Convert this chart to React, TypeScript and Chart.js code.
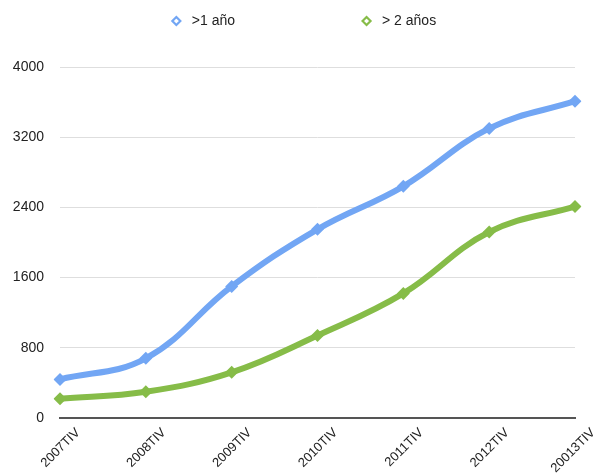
import React, { useEffect, useRef } from "react";
import { Chart, registerables } from "chart.js";

Chart.register(...registerables);

const categories = ["2007TIV", "2008TIV", "2009TIV", "2010TIV", "2011TIV", "2012TIV", "20013TIV"];
const seriesOneYear = [440, 680, 1500, 2150, 2640, 3300, 3610];
const seriesTwoYears = [220, 300, 520, 940, 1420, 2120, 2410];
const yTicks = [0, 800, 1600, 2400, 3200, 4000];
const seriesNames = [">1 año", "> 2 años"];

const BLUE = "#72a6f4";
const GREEN = "#86bc48";
const FONT = "'Liberation Sans', Arial, Helvetica, sans-serif";

const topLegend = {
  id: "topLegend",
  afterDraw(chart: any) {
    const ctx = chart.ctx;
    const items = chart.data.datasets.map((ds: any) => ({ text: ds.label, color: ds.borderColor }));
    ctx.save();
    ctx.font = `14px ${FONT}`;
    const markerW = 9;
    const markerGap = 11;
    const itemGap = 127;
    const widths = items.map((it: any) => markerW + markerGap + ctx.measureText(it.text).width);
    const total = widths.reduce((a: number, b: number) => a + b, 0) + itemGap * (items.length - 1);
    let x = chart.width / 2 - total / 2;
    const y = 21;
    items.forEach((it: any, i: number) => {
      const cx = x + markerW / 2;
      const r = 4;
      ctx.beginPath();
      ctx.moveTo(cx, y - r);
      ctx.lineTo(cx + r, y);
      ctx.lineTo(cx, y + r);
      ctx.lineTo(cx - r, y);
      ctx.closePath();
      ctx.fillStyle = "#fff";
      ctx.fill();
      ctx.lineWidth = 2.2;
      ctx.strokeStyle = it.color;
      ctx.stroke();
      ctx.fillStyle = "#222";
      ctx.textAlign = "left";
      ctx.textBaseline = "middle";
      ctx.fillText(it.text, x + markerW + markerGap, y);
      x += widths[i] + itemGap;
    });
    ctx.restore();
  },
};

export default function App() {
  const ref = useRef<HTMLCanvasElement | null>(null);
  useEffect(() => {
    if (!ref.current) return;
    const chart = new Chart(ref.current, {
      type: "line",
      data: {
        labels: categories,
        datasets: [
          {
            label: seriesNames[0],
            data: seriesOneYear,
            borderColor: BLUE,
            backgroundColor: BLUE,
            borderWidth: 6,
            pointStyle: "rectRot",
            pointRadius: 6.5,
            pointBorderWidth: 0,
            tension: 0.4,
          },
          {
            label: seriesNames[1],
            data: seriesTwoYears,
            borderColor: GREEN,
            backgroundColor: GREEN,
            borderWidth: 6,
            pointStyle: "rectRot",
            pointRadius: 6.5,
            pointBorderWidth: 0,
            tension: 0.4,
          },
        ],
      },
      plugins: [topLegend],
      options: {
        animation: false,
        responsive: false,
        layout: { autoPadding: false, padding: { top: 67, right: 33, left: 13, bottom: 0 } },
        plugins: {
          tooltip: { enabled: false },
          legend: { display: false },
        },
        scales: {
          x: {
            offset: false,
            grid: { display: false, drawTicks: false, tickLength: 0 },
            border: { display: true, color: "#555", width: 2 },
            ticks: {
              color: "#222",
              font: { family: FONT, size: 13 },
              maxRotation: 45,
              minRotation: 45,
              padding: 7,
              labelOffset: 18,
            },
            afterFit: (s: any) => {
              s.paddingLeft = 0;
              s.paddingRight = 0;
              s.height = 58;
            },
          },
          y: {
            min: 0,
            max: 4000,
            afterBuildTicks: (s: any) => {
              s.ticks = yTicks.map((v) => ({ value: v }));
            },
            afterFit: (s: any) => {
              s.width = 47;
            },
            grid: { color: "#dedede", lineWidth: 1, drawTicks: false },
            border: { display: false },
            ticks: {
              color: "#222",
              font: { family: FONT, size: 14 },
              padding: 16,
              callback: (v: any) => String(v),
            },
          },
        },
      },
    });
    return () => chart.destroy();
  }, []);
  return (
    <div style={{ position: "fixed", left: 0, top: 0, width: 608, height: 476, background: "#fff" }}>
      <canvas ref={ref} width={608} height={476} style={{ width: 608, height: 476 }} />
    </div>
  );
}
